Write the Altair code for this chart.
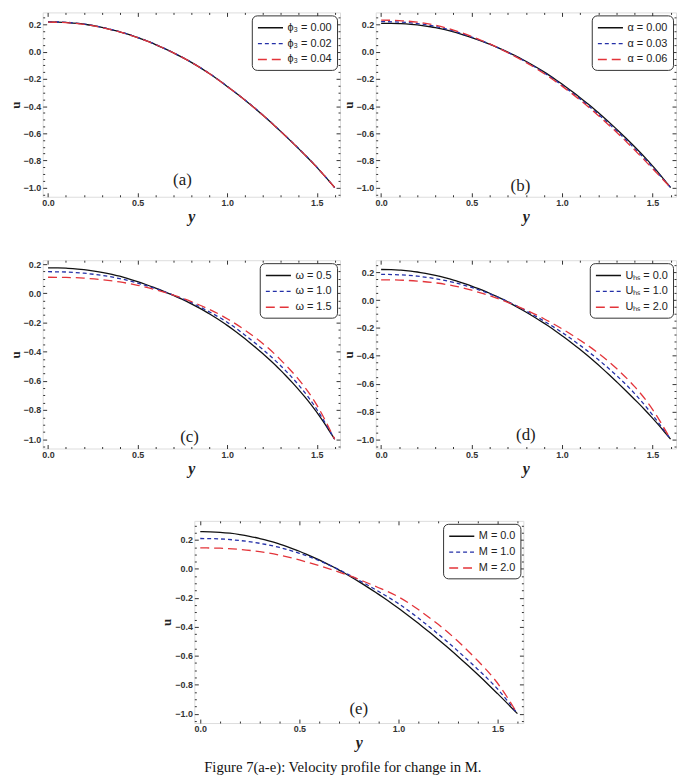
import altair as alt
import pandas as pd

# ---------------- data ----------------
Y_POS = [0.0, 0.1, 0.2, 0.3, 0.4, 0.5, 0.6, 0.7, 0.8, 0.9, 1.0, 1.1, 1.2, 1.3, 1.4, 1.5, 1.6]

A_LABELS = ["ϕ₃ = 0.00", "ϕ₃ = 0.02", "ϕ₃ = 0.04"]
A_1 = [0.220, 0.216, 0.203, 0.180, 0.147, 0.105, 0.053, -0.008, -0.078, -0.160, -0.255, -0.357, -0.468, -0.588, -0.715, -0.850, -1.000]
A_2 = [0.221, 0.217, 0.204, 0.181, 0.148, 0.106, 0.054, -0.007, -0.077, -0.159, -0.254, -0.356, -0.467, -0.587, -0.714, -0.849, -1.000]
A_3 = [0.219, 0.215, 0.202, 0.179, 0.146, 0.104, 0.053, -0.008, -0.078, -0.160, -0.255, -0.357, -0.468, -0.588, -0.715, -0.850, -1.000]

B_LABELS = ["α = 0.00", "α = 0.03", "α = 0.06"]
B_1 = [0.210, 0.208, 0.198, 0.178, 0.147, 0.105, 0.056, -0.002, -0.070, -0.148, -0.238, -0.338, -0.448, -0.568, -0.698, -0.840, -1.000]
B_2 = [0.222, 0.219, 0.208, 0.187, 0.153, 0.109, 0.057, -0.004, -0.074, -0.154, -0.246, -0.348, -0.460, -0.580, -0.710, -0.850, -1.000]
B_3 = [0.233, 0.230, 0.218, 0.196, 0.160, 0.113, 0.058, -0.006, -0.078, -0.160, -0.253, -0.356, -0.469, -0.591, -0.722, -0.860, -1.000]

C_LABELS = ["ω = 0.5", "ω = 1.0", "ω = 1.5"]
C_1 = [0.175, 0.172, 0.162, 0.144, 0.117, 0.080, 0.036, -0.014, -0.072, -0.140, -0.220, -0.312, -0.415, -0.530, -0.662, -0.815, -1.000]
C_2 = [0.148, 0.146, 0.138, 0.123, 0.101, 0.070, 0.032, -0.012, -0.064, -0.127, -0.198, -0.287, -0.386, -0.498, -0.630, -0.795, -1.000]
C_3 = [0.110, 0.109, 0.104, 0.094, 0.078, 0.055, 0.025, -0.012, -0.057, -0.110, -0.174, -0.253, -0.345, -0.458, -0.592, -0.765, -1.000]

D_LABELS = ["Uₕₛ = 0.0", "Uₕₛ = 1.0", "Uₕₛ = 2.0"]
D_1 = [0.221, 0.217, 0.203, 0.179, 0.145, 0.102, 0.050, -0.012, -0.085, -0.165, -0.255, -0.355, -0.465, -0.585, -0.712, -0.848, -1.000]
D_2 = [0.186, 0.183, 0.173, 0.155, 0.128, 0.092, 0.046, -0.010, -0.076, -0.150, -0.232, -0.325, -0.427, -0.540, -0.670, -0.825, -1.000]
D_3 = [0.147, 0.145, 0.138, 0.125, 0.104, 0.072, 0.033, -0.015, -0.070, -0.133, -0.206, -0.288, -0.380, -0.490, -0.620, -0.785, -1.000]

E_LABELS = ["M = 0.0", "M = 1.0", "M = 2.0"]
E_1 = [0.258, 0.253, 0.237, 0.210, 0.172, 0.122, 0.062, -0.008, -0.088, -0.176, -0.272, -0.376, -0.487, -0.605, -0.730, -0.862, -1.000]
E_2 = [0.210, 0.207, 0.196, 0.177, 0.148, 0.108, 0.057, -0.006, -0.078, -0.156, -0.240, -0.340, -0.450, -0.568, -0.694, -0.830, -1.000]
E_3 = [0.145, 0.143, 0.135, 0.119, 0.095, 0.062, 0.022, -0.022, -0.072, -0.130, -0.193, -0.281, -0.383, -0.500, -0.635, -0.790, -1.000]

PANEL_TAGS = ["(a)", "(b)", "(c)", "(d)", "(e)"]
TAG_Y = [0.75, 0.77, 0.79, 0.80, 0.80]
TAG_U = [-0.945, -0.99, -0.985, -0.97, -0.97]

X_TICKS = [0.0, 0.1, 0.2, 0.3, 0.4, 0.5, 0.6, 0.7, 0.8, 0.9, 1.0, 1.1, 1.2, 1.3, 1.4, 1.5, 1.6]
Y_TICKS = [-1.05, -1.0, -0.95, -0.9, -0.85, -0.8, -0.75, -0.7, -0.65, -0.6, -0.55, -0.5, -0.45,
           -0.4, -0.35, -0.3, -0.25, -0.2, -0.15, -0.1, -0.05, 0.0, 0.05, 0.1, 0.15, 0.2, 0.25, 0.3]

CAPTION = "Figure 7(a-e): Velocity profile for change in M."

# ---------------- styling ----------------
COLORS = ["#111111", "#2430a8", "#e3343a"]
DASHES = [[10, 0], [4, 3], [9, 5]]
X_DOM = [-0.03, 1.63]
MAJ_X = "abs(datum.value*2 - round(datum.value*2)) < 0.001"
MAJ_Y = "abs(datum.value*5 - round(datum.value*5)) < 0.001"
SANS = "Liberation Sans"
SERIF = "Liberation Serif"


def frame_axis(orient, values, test, labels, title=None, title_kw=None):
    kw = dict(
        orient=orient, values=values, offset=-4, domain=False, grid=False,
        tickSize=4, tickColor="#333333", tickWidth=1,
        tickDash={"condition": {"test": f"!({test})", "value": [0, 2, 2, 20]}, "value": [10, 0]},
        labelOverlap=False, labelFlush=False,
    )
    if labels:
        kw.update(labelExpr=f"({test}) ? format(datum.value, '.1f') : ''",
                  labelFont=SANS, labelFontSize=9, labelFontWeight="bold",
                  labelColor="#333333", labelPadding=2)
    else:
        kw.update(labels=False)
    if title is None:
        kw["title"] = None
    else:
        kw["title"] = title
        kw.update(title_kw)
    return alt.Axis(**kw)


def panel(labels, series, idx, ydom, width, height):
    rows = []
    for lab, vals in zip(labels, series):
        for yy, uu in zip(Y_POS, vals):
            rows.append({"y": yy, "u": uu, "s": lab})
    df = pd.DataFrame(rows)
    xs = alt.Scale(domain=X_DOM, nice=False, zero=False)
    ys = alt.Scale(domain=ydom, nice=False, zero=False)
    xv = [v for v in X_TICKS if X_DOM[0] <= v <= X_DOM[1]]
    yv = [v for v in Y_TICKS if ydom[0] <= v <= ydom[1]]

    leg = alt.Legend(
        title=None, orient="top-right", offset=3, fillColor="white",
        strokeColor="#333333", cornerRadius=5, padding=5,
        labelFont=SANS, labelFontSize=11, labelColor="#222222",
        symbolType="M-1,0H3", symbolSize=160, symbolStrokeWidth=1.4,
        labelOffset=16, rowPadding=3,
    )
    lines = alt.Chart(df).mark_line(strokeWidth=1.3, interpolate="natural").encode(
        x=alt.X("y:Q", scale=xs, axis=frame_axis(
            "bottom", xv, MAJ_X, True, "y",
            dict(titleFont=SERIF, titleFontSize=16, titleFontWeight="bold",
                 titleFontStyle="italic", titleColor="#222222", titlePadding=1))),
        y=alt.Y("u:Q", scale=ys, axis=frame_axis(
            "left", yv, MAJ_Y, True, "u",
            dict(titleFont=SERIF, titleFontSize=13, titleFontWeight="bold",
                 titleColor="#222222", titlePadding=1))),
        color=alt.Color("s:N", scale=alt.Scale(domain=labels, range=COLORS), legend=leg),
        strokeDash=alt.StrokeDash("s:N", scale=alt.Scale(domain=labels, range=DASHES), legend=leg),
    )
    tag_df = pd.DataFrame({"y": [TAG_Y[idx]], "u": [TAG_U[idx]], "t": [PANEL_TAGS[idx]]})
    tag = alt.Chart(tag_df).mark_text(font=SERIF, fontSize=17, color="#222222", baseline="middle").encode(
        x=alt.X("y:Q", scale=xs, axis=frame_axis("top", xv, MAJ_X, False)),
        y=alt.Y("u:Q", scale=ys, axis=frame_axis("right", yv, MAJ_Y, False)),
        text="t:N",
    )
    return alt.layer(lines, tag).resolve_axis(x="independent", y="independent").properties(
        width=width, height=height)


pa = panel(A_LABELS, [A_1, A_2, A_3], 0, [-1.068, 0.29], 300, 186)
pb = panel(B_LABELS, [B_1, B_2, B_3], 1, [-1.068, 0.29], 303, 186)
pc = panel(C_LABELS, [C_1, C_2, C_3], 2, [-1.064, 0.227], 300, 190)
pd_ = panel(D_LABELS, [D_1, D_2, D_3], 3, [-1.067, 0.288], 303, 190)
pe = panel(E_LABELS, [E_1, E_2, E_3], 4, [-1.065, 0.332], 332, 204)

spacer = alt.Chart(pd.DataFrame({"v": [0]})).mark_point(opacity=0).encode(
    x=alt.X("v:Q", axis=None), y=alt.Y("v:Q", axis=None)
).properties(width=118, height=10, view=alt.ViewBackground(strokeOpacity=0))

RES = dict(color="independent", strokeDash="independent")
row1 = alt.hconcat(pa, pb, spacing=0).resolve_scale(**RES)
row2 = alt.hconcat(pc, pd_, spacing=0).resolve_scale(**RES)
row3 = alt.hconcat(spacer, pe, spacing=0).resolve_scale(**RES)
top = alt.vconcat(row1, row2, spacing=34).resolve_scale(**RES)

chart = alt.vconcat(top, row3, spacing=43).resolve_scale(**RES).properties(
    padding=0,
    title=alt.TitleParams(CAPTION, orient="bottom", anchor="middle", font=SERIF,
                          fontSize=14.8, fontWeight="normal", color="#111111", offset=9),
).configure_view(stroke="#222222", strokeWidth=1.2).configure(background="white")

chart.save("out.html", embed_options={"renderer": "svg", "actions": False})
